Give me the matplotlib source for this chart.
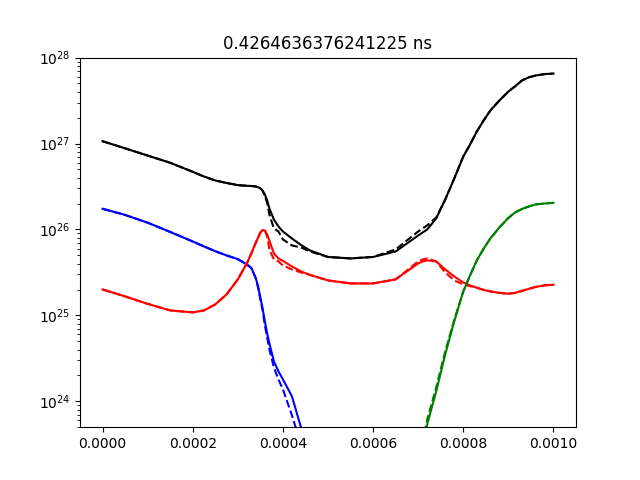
import numpy as np
import matplotlib
matplotlib.use('Agg')
import matplotlib.pyplot as plt

# sample times (s)
t = np.array([0, 0.5, 1.0, 1.5, 2.0, 2.25, 2.5, 2.75, 3.0, 3.2,
              3.3, 3.4, 3.45, 3.5, 3.55, 3.6, 3.65, 3.7, 3.8, 3.9,
              4.0, 4.2, 4.4, 4.6, 5.0, 5.5, 6.0, 6.5, 7.0, 7.1,
              7.2, 7.4, 7.6, 7.8, 8.0, 8.15, 8.3, 8.45, 8.6, 8.8,
              9.0, 9.15, 9.3, 9.45, 9.6, 9.8, 10.0]) * 1e-4

nan = np.nan

# log10 of each quantity
black_solid = [27.027, 26.944, 26.860, 26.776, 26.671, 26.616, 26.570, 26.541, 26.516, 26.508,
               26.506, 26.500, 26.491, 26.479, 26.453, 26.407, 26.337, 26.244, 26.116, 26.035,
               25.977, 25.895, 25.820, 25.756, 25.680, 25.663, 25.680, 25.744, 25.930, 25.965,
               26.000, 26.128, 26.349, 26.593, 26.849, 26.988, 27.140, 27.267, 27.384, 27.500,
               27.605, 27.666, 27.733, 27.770, 27.791, 27.808, 27.814]
black_dash = [27.027, 26.944, 26.860, 26.776, 26.671, 26.616, 26.570, 26.541, 26.516, 26.508,
              26.506, 26.500, 26.491, 26.479, 26.450, 26.384, 26.314, 26.174, 26.012, 25.977,
              25.884, 25.814, 25.791, 25.744, 25.680, 25.663, 25.680, 25.767, 25.977, 26.012,
              26.047, 26.140, 26.349, 26.593, 26.849, 26.988, 27.140, 27.267, 27.384, 27.500,
              27.605, 27.666, 27.733, 27.770, 27.791, 27.808, 27.814]

blue_solid = [26.241, 26.169, 26.079, 25.971, 25.860, 25.802, 25.747, 25.698, 25.655, 25.593,
              25.552, 25.430, 25.337, 25.209, 25.081, 24.930, 24.791, 24.674, 24.465, 24.349,
              24.256, 24.058, 23.698, 23.3] + [nan] * 23
blue_dash = [26.241, 26.169, 26.079, 25.971, 25.860, 25.802, 25.747, 25.698, 25.655, 25.593,
             25.552, 25.430, 25.320, 25.186, 25.058, 24.884, 24.744, 24.605, 24.395, 24.256,
             24.140, 23.837, 23.5] + [nan] * 24

red_solid = [25.302, 25.221, 25.134, 25.058, 25.035, 25.058, 25.128, 25.244, 25.419, 25.605,
             25.721, 25.849, 25.907, 25.965, 25.994, 25.988, 25.942, 25.872, 25.721, 25.663,
             25.634, 25.570, 25.512, 25.471, 25.407, 25.372, 25.372, 25.419, 25.605, 25.628,
             25.640, 25.628, 25.535, 25.453, 25.384, 25.349, 25.322, 25.297, 25.279, 25.262,
             25.252, 25.262, 25.285, 25.308, 25.331, 25.349, 25.357]
red_dash = [25.302, 25.221, 25.134, 25.058, 25.035, 25.058, 25.128, 25.244, 25.419, 25.605,
            25.721, 25.849, 25.907, 25.965, 25.994, 25.988, 25.919, 25.767, 25.651, 25.628,
            25.581, 25.535, 25.500, 25.471, 25.407, 25.372, 25.372, 25.419, 25.628, 25.651,
            25.663, 25.628, 25.500, 25.407, 25.360, 25.340, 25.322, 25.297, 25.279, 25.262,
            25.252, 25.262, 25.285, 25.308, 25.331, 25.349, 25.357]

green_solid = [nan] * 29 + [23.45, 23.733, 24.116, 24.547, 24.930, 25.279, 25.465, 25.640,
                            25.775, 25.895, 26.023, 26.134, 26.198, 26.238, 26.267, 26.291,
                            26.302, 26.310]
green_dash = [nan] * 29 + [23.50, 23.791, 24.163, 24.581, 24.950, 25.279, 25.465, 25.640,
                           25.775, 25.895, 26.023, 26.134, 26.198, 26.238, 26.267, 26.291,
                           26.302, 26.310]

title = '0.4264636376241225 ns'

fig = plt.figure(figsize=(6.4, 4.8), dpi=100)
ax = fig.add_subplot(111)
for sol, das, c in [(black_solid, black_dash, 'k'), (blue_solid, blue_dash, 'b'),
                    (red_solid, red_dash, 'r'), (green_solid, green_dash, 'g')]:
    ax.plot(t, 10.0 ** np.array(sol), color=c, ls='-')
    ax.plot(t, 10.0 ** np.array(das), color=c, ls='--')
ax.set_yscale('log')
ax.set_ylim(5e23, 1e28)
ax.set_title(title)
fig.savefig('out.png')
